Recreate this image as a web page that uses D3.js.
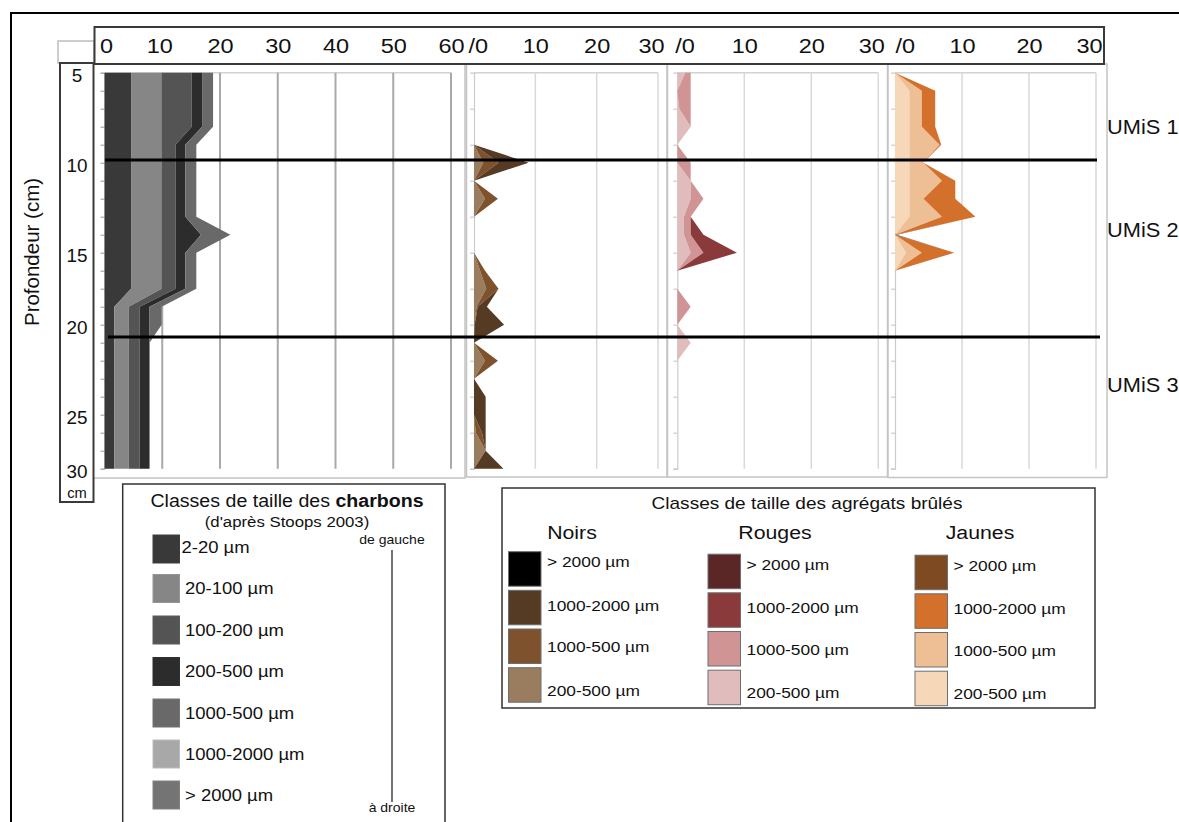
<!DOCTYPE html>
<html>
<head>
<meta charset="utf-8">
<script src="https://cdn.jsdelivr.net/npm/d3@7/dist/d3.min.js"></script>
<style>
html,body{margin:0;padding:0;background:#fff;}
svg{display:block;}
</style>
</head>
<body>
<svg id="chart" width="1179" height="822"></svg>
<script>
// ---------------- DATA ----------------
// 23 sampled levels down the profile (category axis, top to bottom)
const samples = [1,2,3,4,5,6,7,8,9,10,11,12,13,14,15,16,17,18,19,20,21,22,23];
const depthTickSamples = [1,6,11,15,20,23];
const depthTickLabels  = ["5","10","15","20","25","30"];

const umisBoundarySamples = [5.85, 15.68];
const umisLabels = ["UMiS 1","UMiS 2","UMiS 3"];
const umisLabelSamples = [4.0, 9.75, 18.35];

// Charbons (%), stacked left to right
const charbonKeys = ["2-20 µm","20-100 µm","100-200 µm","200-500 µm","1000-500 µm","1000-2000 µm","> 2000 µm"];
const charbon_2_20      = [4.6,4.6,4.6,4.6,4.6,4.6,4.6,4.6,4.6,4.6,4.6,4.6,4.6,1.7,1.7,1.7,1.7,1.7,1.7,1.7,1.7,1.7,1.7];
const charbon_20_100    = [5.3,5.3,5.3,5.3,5.3,5.3,5.3,5.3,5.3,5.3,5.3,5.3,5.3,2.5,2.5,2.5,2.5,2.5,2.5,2.5,2.5,2.5,2.5];
const charbon_100_200   = [5.2,5.2,5.2,5.2,2.4,2.4,2.4,2.4,2.4,2.4,2.4,2.4,2.4,1.9,1.9,1.9,1.9,1.9,1.9,1.9,1.9,1.9,1.9];
const charbon_200_500   = [1.8,1.8,1.8,1.8,1.7,1.7,1.7,1.7,1.7,4.4,1.7,1.7,1.7,1.7,1.7,1.7,1.7,1.7,1.7,1.7,1.7,1.7,1.7];
const charbon_500_1000  = [1.9,1.9,1.9,1.9,1.9,1.9,1.9,1.9,1.9,5.1,1.9,1.9,1.9,2.1,2.1,0,0,0,0,0,0,0,0];
const charbon_1000_2000 = [0,0,0,0,0,0,0,0,0,0,0,0,0,0,0,0,0,0,0,0,0,0,0];
const charbon_2000      = [0,0,0,0,0,0,0,0,0,0,0,0,0,0,0,0,0,0,0,0,0,0,0];

// Agrégats brûlés (%), stacked left to right: 200-500, 1000-500, 1000-2000, > 2000
const agregatKeys = ["200-500 µm","1000-500 µm","1000-2000 µm","> 2000 µm"];
const noir_200_500   = [0,0,0,0,0,1.5,0,1.8,0,0,0,1.0,2.0,0.4,0.1,0,1.8,0,0,0,0.3,1.9,0];
const noir_500_1000  = [0,0,0,0,0,2.5,0,2.1,0,0,0,0.8,2.0,0.2,0,0,2.1,0,0,0,1.0,0,0];
const noir_1000_2000 = [0,0,0,0,0,4.9,0,0,0,0,0,0,0,1.5,4.8,0,0,0,1.9,1.9,0.6,0,4.8];
const noir_2000      = [0,0,0,0,0,0,0,0,0,0,0,0,0,0,0,0,0,0,0,0,0,0,0];

const rouge_200_500   = [1.2,0,0.3,2.0,0,0,2.0,2.0,1.0,1.0,2.0,0,0,0,0,2.0,0,0,0,0,0,0,0];
const rouge_500_1000  = [0.8,2.0,1.7,0,0,2.0,0,1.9,1.0,1.0,1.9,0,0,2.0,0,0,0,0,0,0,0,0,0];
const rouge_1000_2000 = [0,0,0,0,0,0,0,0,0,1.9,5.0,0,0,0,0,0,0,0,0,0,0,0,0];
const rouge_2000      = [0,0,0,0,0,0,0,0,0,0,0,0,0,0,0,0,0,0,0,0,0,0,0];

const jaune_200_500   = [0,2.15,2.15,2.15,2.15,2.15,2.15,2.15,2.15,0,1.65,0,0,0,0,0,0,0,0,0,0,0,0];
const jaune_500_1000  = [0,1.85,1.85,1.85,4.5,2.1,4.85,2.1,4.85,0,2.35,0,0,0,0,0,0,0,0,0,0,0,0];
const jaune_1000_2000 = [0,2.0,2.0,2.0,0.25,0,2.0,4.75,5.0,0,4.85,0,0,0,0,0,0,0,0,0,0,0,0];
const jaune_2000      = [0,0,0,0,0,0,0,0,0,0.3,0,0,0,0,0,0,0,0,0,0,0,0,0];

const charbonTicks = [0,10,20,30,40,50,60];
const agregatTicks = [0,10,20,30];

// Legend texts
const agregatGroups = ["Noirs","Rouges","Jaunes"];
const agregatLegendKeys = ["> 2000 µm","1000-2000 µm","1000-500 µm","200-500 µm"];

// ---------------- STYLE ----------------
const charbonColors = ["#393939","#868686","#545454","#2c2c2c","#696969","#a8a8a8","#747474"];
const noirColors  = ["#9a7c5e","#7d522c","#553b24","#000000"];
const rougeColors = ["#e0bcbc","#d09494","#8a3a3a","#5a2626"];
const jauneColors = ["#f6d8b8","#eebf94","#d3702b","#7e4a22"];

const FONT = '"Liberation Sans", Arial, Helvetica, sans-serif';
const SX = 1.12;
const svg = d3.select("#chart").attr("font-family", FONT);

function addText(parent, x, y, str, size, o = {}) {
  const t = parent.append("text")
    .attr("transform", `translate(${x},${y}) scale(${o.sx ?? SX},1)`)
    .attr("text-anchor", o.anchor || "start")
    .attr("dominant-baseline", "central")
    .attr("font-size", size)
    .attr("fill", o.fill || "#111");
  if (o.weight) t.attr("font-weight", o.weight);
  if (str !== null) t.text(str);
  return t;
}

// outer frame
svg.append("line").attr("x1",10).attr("x2",1179).attr("y1",13).attr("y2",13).attr("stroke","#000").attr("stroke-width",2);
svg.append("line").attr("x1",11).attr("x2",11).attr("y1",12).attr("y2",822).attr("stroke","#000").attr("stroke-width",2);

const y = d3.scaleLinear().domain([1, 23]).range([72.7, 468.7]);
const evenSamples = samples.filter((s, i) => i > 0 && i % 2 === 0);

const panels = [
  { keys: charbonKeys, series: [charbon_2_20,charbon_20_100,charbon_100_200,charbon_200_500,charbon_500_1000,charbon_1000_2000,charbon_2000],
    colors: charbonColors, domain: [0,60], range: [104.5,451], ticks: charbonTicks, grid: "#a9a9a9", gridW: 2,
    sampleTicks: samples, frame: [93,64,465,478], first: true },
  { keys: agregatKeys, series: [noir_200_500,noir_500_1000,noir_1000_2000,noir_2000],
    colors: noirColors, domain: [0,30], range: [474,658], ticks: agregatTicks, grid: "#d9d9d9", gridW: 1.5,
    sampleTicks: evenSamples, frame: [466.5,64,667,477], zeroDx: 13.5 },
  { keys: agregatKeys, series: [rouge_200_500,rouge_500_1000,rouge_1000_2000,rouge_2000],
    colors: rougeColors, domain: [0,30], range: [677.3,878.3], ticks: agregatTicks, grid: "#d9d9d9", gridW: 1.5,
    sampleTicks: evenSamples, frame: [667.5,64,887.5,477], zeroDx: 17 },
  { keys: agregatKeys, series: [jaune_200_500,jaune_500_1000,jaune_1000_2000,jaune_2000],
    colors: jauneColors, domain: [0,30], range: [895,1096], ticks: agregatTicks, grid: "#d9d9d9", gridW: 1.5,
    sampleTicks: evenSamples, frame: [888,64,1107,477.5], zeroDx: 19.5 }
];

const gPanels = svg.append("g");
panels.forEach((p, pi) => {
  const g = gPanels.append("g");
  const x = d3.scaleLinear().domain(p.domain).range(p.range);
  p.x = x;
  // frame
  g.append("rect").attr("x", p.frame[0]).attr("y", p.frame[1])
    .attr("width", p.frame[2]-p.frame[0]).attr("height", p.frame[3]-p.frame[1])
    .attr("fill", "#fff").attr("stroke", "#c4c4c4").attr("stroke-width", 1.5);
  // plot top border
  g.append("line").attr("x1", x(0)).attr("x2", x(p.domain[1])).attr("y1", y(1)).attr("y2", y(1))
    .attr("stroke", "#d2d2d2").attr("stroke-width", 1.5);
  // gridlines
  g.selectAll(".grid").data(p.ticks.filter(t => t > 0)).join("line")
    .attr("x1", d => x(d)).attr("x2", d => x(d)).attr("y1", y(1)).attr("y2", y(23))
    .attr("stroke", p.grid).attr("stroke-width", p.gridW);
  // left axis with sample ticks
  const ax = g.append("g").attr("transform", `translate(${x(0)},0)`)
    .call(d3.axisLeft(y).tickValues(p.sampleTicks).tickSize(4).tickSizeOuter(4).tickFormat(""));
  ax.select(".domain").attr("stroke", "#cccccc").attr("stroke-width", 1.2);
  ax.selectAll(".tick line").attr("stroke", p.first ? "#9a9a9a" : "#c2c2c2");
  // stacked areas
  const rows = samples.map((s, i) => {
    const r = { sample: s };
    p.keys.forEach((k, ki) => r[k] = p.series[ki][i]);
    return r;
  });
  const stacked = d3.stack().keys(p.keys)(rows);
  const area = d3.area()
    .y(d => y(d.data.sample))
    .x0(d => x(d[0]))
    .x1(d => x(d[1]));
  g.selectAll(".layer").data(stacked).join("path")
    .attr("d", area)
    .attr("fill", (d, i) => p.colors[i])
    .attr("stroke", "none");
});

// UMiS boundaries
const boundaryX = [[105,1097],[108,1100]];
svg.selectAll(".umis").data(umisBoundarySamples).join("line")
  .attr("x1", (d,i) => boundaryX[i][0]).attr("x2", (d,i) => boundaryX[i][1])
  .attr("y1", d => y(d)).attr("y2", d => y(d))
  .attr("stroke", "#000").attr("stroke-width", 3);

umisLabels.forEach((l, i) => addText(svg, 1107, y(umisLabelSamples[i]), l, 19.5));

// top axis box
svg.append("rect").attr("x", 58).attr("y", 41).attr("width", 36).attr("height", 22)
  .attr("fill", "#fff").attr("stroke", "#bdbdbd").attr("stroke-width", 1.5);
svg.append("rect").attr("x", 94.5).attr("y", 27).attr("width", 1009.5).attr("height", 37)
  .attr("fill", "#fff").attr("stroke", "#3a3a3a").attr("stroke-width", 2);

panels.forEach((p, pi) => {
  const ag = svg.append("g").attr("transform", "translate(0,46)")
    .call(d3.axisTop(p.x).tickValues(p.ticks).tickSize(0)
      .tickFormat(d => (pi > 0 && d === 0) ? "/0" : d));
  ag.select(".domain").remove();
  ag.selectAll("text")
    .attr("y", 0).attr("dy", null)
    .attr("dominant-baseline", "central")
    .attr("font-size", 21).attr("font-family", FONT).attr("fill", "#111")
    .attr("text-anchor", d => (pi > 0 && d === 0) ? "end" : "middle")
    .attr("transform", d => {
      let dx = 0;
      if (pi > 0 && d === 0) dx = p.zeroDx;
      if (pi > 0 && d === 30) dx = -7;
      if (pi === 0 && d === 10) dx = -3;
      if (pi === 0 && d === 0) dx = 1.5;
      return `translate(${dx},0) scale(${SX},1)`;
    });
});

// depth axis box
svg.append("rect").attr("x", 60).attr("y", 63).attr("width", 33.5).attr("height", 439)
  .attr("fill", "#fff").attr("stroke", "#3a3a3a").attr("stroke-width", 2);
depthTickSamples.forEach((s, i) => addText(svg, 77, y(s) + 2.5, depthTickLabels[i], 18, { anchor: "middle", sx: 1.05 }));
addText(svg, 77, 493, "cm", 14, { anchor: "middle", sx: 1.05 });

// y title
svg.append("text")
  .attr("transform", "translate(31,252) rotate(-90)")
  .attr("text-anchor", "middle").attr("dominant-baseline", "central")
  .attr("font-size", 20.5).attr("fill", "#111")
  .text("Profondeur (cm)");

// ---------- Charbons legend ----------
const lg1 = svg.append("g");
lg1.append("rect").attr("x", 122.7).attr("y", 484).attr("width", 322.3).attr("height", 360)
  .attr("fill", "#fff").attr("stroke", "#333").attr("stroke-width", 1.5);
const t1 = addText(lg1, 287, 500, null, 17.5, { anchor: "middle" });
t1.append("tspan").text("Classes de taille des ");
t1.append("tspan").attr("font-weight", "bold").text("charbons");
addText(lg1, 287, 522, "(d'après Stoops 2003)", 15, { anchor: "middle" });
const charbonRowY = [549, 588.5, 630, 671.5, 713, 754, 795];
charbonKeys.forEach((k, i) => {
  lg1.append("rect").attr("x", 153).attr("y", charbonRowY[i] - 14).attr("width", 26.5).attr("height", 28)
    .attr("fill", charbonColors[i]).attr("stroke", d3.color(charbonColors[i]).brighter(0.3)).attr("stroke-width", 1);
  addText(lg1, i === 0 ? 181.5 : 185, charbonRowY[i] - (i === 0 ? 2 : 0), k, 16.5);
});
addText(lg1, 392, 540, "de gauche", 12.5, { anchor: "middle" });
lg1.append("line").attr("x1", 392).attr("x2", 392).attr("y1", 550).attr("y2", 802)
  .attr("stroke", "#444").attr("stroke-width", 1.5);
addText(lg1, 392, 808, "à droite", 12.5, { anchor: "middle" });

// ---------- Agrégats legend ----------
const lg2 = svg.append("g");
lg2.append("rect").attr("x", 502).attr("y", 488).attr("width", 593).attr("height", 220)
  .attr("fill", "#fff").attr("stroke", "#333").attr("stroke-width", 1.5);
addText(lg2, 807, 503, "Classes de taille des agrégats brûlés", 17, { anchor: "middle" });
const groupColors = [noirColors, rougeColors, jauneColors];
const groupHeaderX = [572, 775, 980];
const groupSwatchX = [508.5, 708, 915];
const groupTopShift = [0, 2.5, 3.5];
const rowTops = [551.7, 590.3, 629, 667.7];
const rowLabelOffset = [10, 15, 17.7, 22.3];
agregatGroups.forEach((gname, gi) => {
  addText(lg2, groupHeaderX[gi], 532, gname, 19, { anchor: "middle" });
  agregatLegendKeys.forEach((k, ri) => {
    const col = groupColors[gi][agregatKeys.length - 1 - ri];
    const top = rowTops[ri] + groupTopShift[gi];
    lg2.append("rect").attr("x", groupSwatchX[gi]).attr("y", top).attr("width", 32.5).attr("height", 34.5)
      .attr("fill", col).attr("stroke", "#6e6e6e").attr("stroke-width", 1);
    addText(lg2, groupSwatchX[gi] + 38.5, top + rowLabelOffset[ri], k, 15.5);
  });
});
</script>
</body>
</html>
